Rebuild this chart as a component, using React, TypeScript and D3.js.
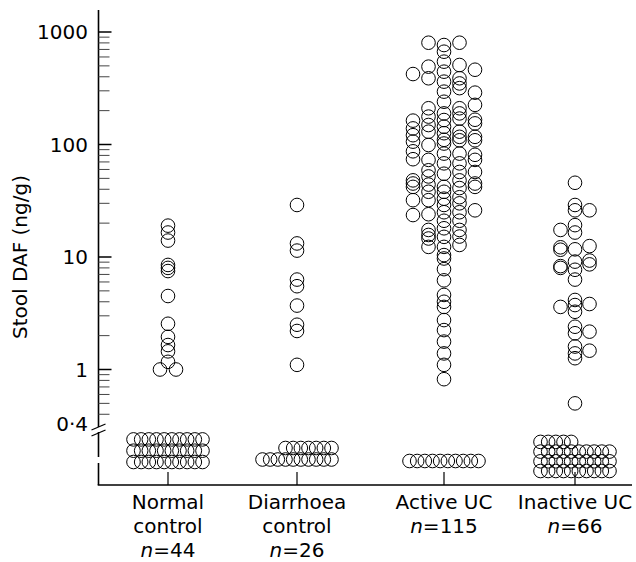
import React from 'react';
import * as d3 from 'd3';

// groups along the x axis
const groups = ['Normal control', 'Diarrhoea control', 'Active UC', 'Inactive UC'];
const groupLines = [['Normal', 'control'], ['Diarrhoea', 'control'], ['Active UC'], ['Inactive UC']];
const groupN = [44, 26, 115, 66];

// detectable stool DAF (ng/g), one array per dot column, left to right
const normalCols = [
  [1.0],
  [19, 16.5, 14, 8.5, 8, 7.5, 4.5, 2.55, 1.95, 1.65, 1.45, 1.17],
  [1.0],
];
const diarrhoeaCols = [[29, 13.2, 11.4, 6.3, 5.5, 3.7, 2.5, 2.2, 1.1]];
const activeCols = [
  [423, 163, 139, 121, 106, 87, 74, 48, 45, 42, 32, 23.6],
  [803, 492, 388, 210, 177, 149, 130, 99, 73, 59, 52, 44, 38, 32, 24, 17.4, 15.7, 14.6, 12.3],
  [766, 668, 545, 444, 362, 295, 240, 189, 165, 144, 126, 110, 102, 83, 68, 55, 42, 38, 33, 29,
    25, 21, 18, 15.1, 12.3, 10.4, 9.7, 7.8, 6.2, 4.6, 4.0, 3.6, 2.75, 2.24, 1.77, 1.39, 1.1, 0.82],
  [803, 509, 388, 349, 317, 210, 189, 170, 130, 117, 109, 83, 68, 57, 48, 41, 34, 30, 25, 21, 17.4, 15.2, 12.8],
  [462, 289, 225, 166, 154, 117, 109, 81, 73, 57, 45, 42, 26],
];
const inactiveCols = [
  [17.4, 12.2, 11.6, 8.3, 8.0, 3.6],
  [45.7, 29, 26, 19.2, 16.5, 11.7, 9.1, 7.7, 6.3, 4.15, 3.74, 3.26, 2.4, 2.1, 1.6, 1.39, 1.26, 0.5],
  [26, 12.5, 9.3, 8.6, 3.82, 2.17, 1.47],
];

// undetectable samples (< 0.4 ng/g), counts per row from the bottom up
const normalUndetected = [10, 10, 10];
const diarrhoeaUndetected = [10, 7];
const activeUndetected = [10];
const inactiveUndetected = [10, 10, 10, 5];

const majorTicks = [1, 10, 100, 1000];

// layout
const W = 636;
const H = 562;
const axisX = 98.5;
const axisY = 485;
const R = 6.8;
const font = '"DejaVu Sans", sans-serif';

const groupData = [
  { cols: normalCols, colGap: 8, undetected: normalUndetected, align: 'left', base: 462, rowGap: 11.3 },
  { cols: diarrhoeaCols, colGap: 0, undetected: diarrhoeaUndetected, align: 'right', base: 459.5, rowGap: 11.5 },
  { cols: activeCols, colGap: 15.5, undetected: activeUndetected, align: 'left', base: 461, rowGap: 11 },
  { cols: inactiveCols, colGap: 14.5, undetected: inactiveUndetected, align: 'left', base: 471, rowGap: 9.7 },
];

const x = d3.scaleOrdinal<string, number>().domain(groups).range([168, 297, 444, 575]);
const y = d3.scaleLog().domain([1, 1000]).range([369.5, 32]);
const slot = d3.scaleLinear().domain([0, 9]).range([-34.5, 34.5]);

const minorTicks: number[] = [];
[0.1, 1, 10, 100].forEach((d) => {
  d3.range(2, 10).forEach((k) => {
    const v = +(k * d).toFixed(3);
    if (v >= 0.4) minorTicks.push(v);
  });
});

const App = () => {
  const dots: { cx: number; cy: number }[] = [];
  groupData.forEach((g, gi) => {
    const cx0 = x(groups[gi]);
    const k = g.cols.length;
    g.cols.forEach((vals, ci) => {
      const off = (ci - (k - 1) / 2) * g.colGap;
      vals.forEach((v) => dots.push({ cx: cx0 + off, cy: y(v) }));
    });
    const rowY = d3.scaleLinear().domain([0, 1]).range([g.base, g.base - g.rowGap]);
    g.undetected.forEach((count, ri) => {
      const start = g.align === 'right' ? 10 - count : 0;
      d3.range(count).forEach((i) => dots.push({ cx: cx0 + slot(start + i), cy: rowY(ri) }));
    });
  });

  const breakTop = 427;
  const breakBot = 432;

  return (
    <svg width={W} height={H} style={{ position: 'absolute', left: 0, top: 0, background: '#fff' }}
      fontFamily={font}>
      {/* y axis with break */}
      <g stroke="#000" strokeWidth={1.6}>
        <line x1={axisX} x2={axisX} y1={10} y2={breakTop} />
        <line x1={axisX} x2={axisX} y1={breakBot} y2={457} />
        <line x1={axisX} x2={axisX} y1={463} y2={axisY} />
        <line x1={axisX - 0.8} x2={632} y1={axisY} y2={axisY} />
      </g>
      <g stroke="#000" strokeWidth={1.2}>
        <line x1={axisX - 7} x2={axisX + 7} y1={breakTop + 3} y2={breakTop - 3} />
        <line x1={axisX - 7} x2={axisX + 7} y1={breakBot + 4} y2={breakBot - 2} />
      </g>
      {majorTicks.map((t) => (
        <line key={'M' + t} x1={axisX} x2={axisX + 13} y1={y(t)} y2={y(t)} stroke="#000" strokeWidth={1.5} />
      ))}
      {minorTicks.map((t) => (
        <line key={'m' + t} x1={axisX} x2={axisX + 11} y1={y(t)} y2={y(t)} stroke="#444" strokeWidth={1} />
      ))}
      {majorTicks.map((t) => (
        <text key={'l' + t} x={88} y={y(t)} dy="0.36em" textAnchor="end" fontSize={20}>{t}</text>
      ))}
      <text x={88} y={y(0.4) + 10} dy="0.36em" textAnchor="end" fontSize={20}>0·4</text>
      <text transform={`translate(27,257) rotate(-90)`} textAnchor="middle" fontSize={20}>Stool DAF (ng/g)</text>

      {/* x ticks and category labels */}
      {groups.map((gname, i) => (
        <g key={gname}>
          <line x1={x(gname)} x2={x(gname)} y1={axisY} y2={axisY - 13} stroke="#000" strokeWidth={1.2} />
          <text textAnchor="middle" fontSize={20}>
            {groupLines[i].map((ln, j) => (
              <tspan key={j} x={x(gname)} y={509 + j * 24}>{ln}</tspan>
            ))}
            <tspan x={x(gname)} y={509 + groupLines[i].length * 24}>
              <tspan fontStyle="italic">n</tspan>={groupN[i]}
            </tspan>
          </text>
        </g>
      ))}

      {/* dots */}
      <g fill="none" stroke="#000" strokeWidth={1}>
        {dots.map((d, i) => (
          <circle key={i} cx={d.cx} cy={d.cy} r={R} />
        ))}
      </g>
    </svg>
  );
};

export default App;
